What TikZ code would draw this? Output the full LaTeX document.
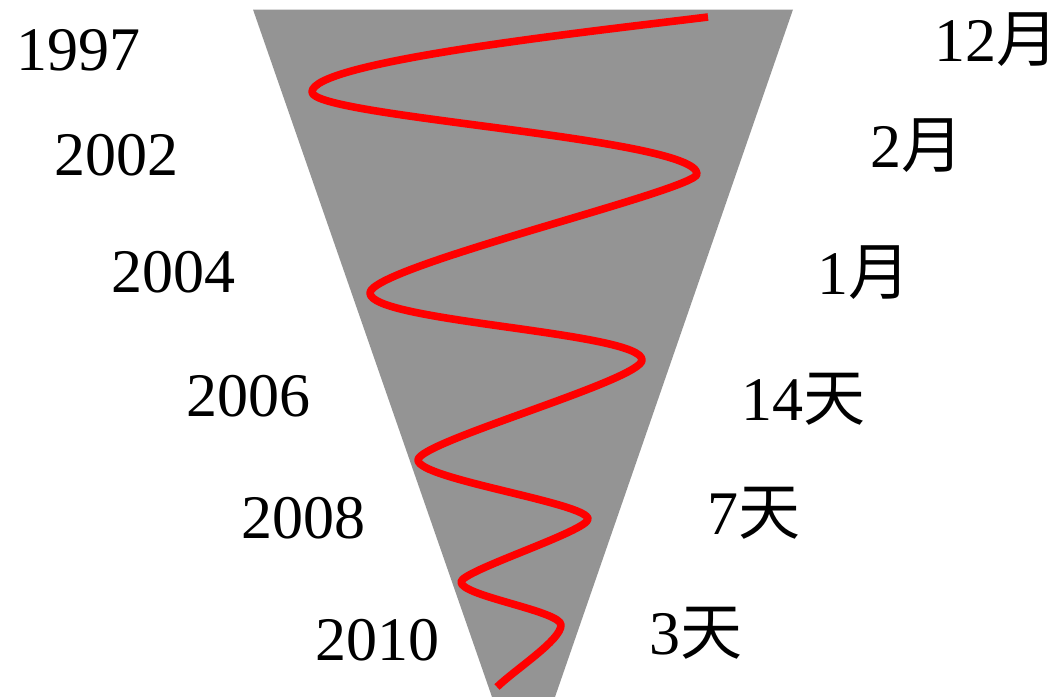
\documentclass[tikz,border=0pt]{standalone}
\usepackage{fontspec}
\setmainfont{Liberation Serif}
\newfontfamily\cjk{Noto Sans CJK SC}
\definecolor{conegray}{RGB}{148,148,148}
\begin{document}
\begin{tikzpicture}[x=0.5pt,y=-0.5pt,
  lbl/.style={anchor=base west, inner sep=0pt, font=\fontsize{31}{37}\selectfont},
  helix/.style={red, line width=3.8pt, line cap=butt, line join=round}]
\useasboundingbox (0,0) rectangle (1057,697);
% cone
\fill[conegray] (253,9.5) -- (793,9.5) -- (555,697) -- (492,697) -- cycle;
% spiral
\draw[helix] (708,17)
  .. controls (578,33) and (312,62) .. (312,92)
  .. controls (312,117) and (697,138) .. (697,174)
  .. controls (697,190) and (370,267) .. (370,293)
  .. controls (370,322) and (642,332) .. (642,360)
  .. controls (642,380) and (418,442) .. (418,460)
  .. controls (418,479) and (588,503) .. (588,519)
  .. controls (588,531) and (461,571) .. (461,582)
  .. controls (461,596) and (561,611) .. (561,625)
  .. controls (561,640) and (517,668) .. (497,687);
% left labels (years)
\node[lbl] (y1997) at (16,70)  {1997};
\node[lbl] (y2002) at (54,175) {2002};
\node[lbl] (y2004) at (111,292) {2004};
\node[lbl] (y2006) at (186,416) {2006};
\node[lbl] (y2008) at (241,538) {2008};
\node[lbl] (y2010) at (315,660) {2010};
% right labels (intervals)
\node[lbl] (i12m) at (934,61)  {12{\cjk 月}};
\node[lbl] (i2m)  at (870,167) {2{\cjk 月}};
\node[lbl] (i1m)  at (817,294) {1{\cjk 月}};
\node[lbl] (i14d) at (741,420) {14{\cjk 天}};
\node[lbl] (i7d)  at (707,534) {7{\cjk 天}};
\node[lbl] (i3d)  at (649,654) {3{\cjk 天}};
\end{tikzpicture}
\end{document}
